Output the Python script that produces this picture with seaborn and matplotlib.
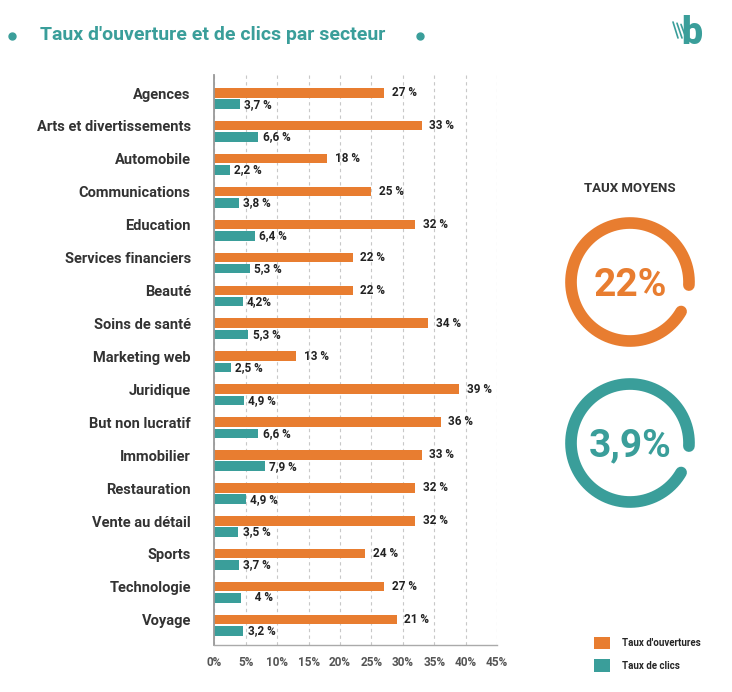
import matplotlib
matplotlib.use("Agg")
import matplotlib.pyplot as plt
import matplotlib.transforms as mtransforms
import numpy as np
import pandas as pd
import seaborn as sns

# Données
secteurs = ["Agences", "Arts et divertissements", "Automobile", "Communications",
            "Education", "Services financiers", "Beauté", "Soins de santé",
            "Marketing web", "Juridique", "But non lucratif", "Immobilier",
            "Restauration", "Vente au détail", "Sports", "Technologie", "Voyage"]
# longueurs des barres
ouvertures = [27, 33, 18, 25, 32, 22, 22, 34, 13, 39, 36, 33, 32, 32, 24, 27, 29]
clics = [4.0, 7.0, 2.5, 3.9, 6.4, 5.6, 4.5, 5.4, 2.6, 4.7, 7.0, 8.0, 5.0, 3.8, 3.9, 4.3, 4.6]
# étiquettes affichées
labels_ouvertures = ["27 %", "33 %", "18 %", "25 %", "32 %", "22 %", "22 %", "34 %", "13 %",
                     "39 %", "36 %", "33 %", "32 %", "32 %", "24 %", "27 %", "21 %"]
labels_clics = ["3,7 %", "6,6 %", "2,2 %", "3,8 %", "6,4 %", "5,3 %", "4,2%", "5,3 %", "2,5 %",
                "4,9 %", "6,6 %", "7,9 %", "4,9 %", "3,5 %", "3,7 %", "   4 %", "3,2 %"]
ticks_x = [0, 5, 10, 15, 20, 25, 30, 35, 40, 45]
moyenne_ouvertures = "22%"
moyenne_clics = "3,9%"

ORANGE = "#E87D30"
TEAL = "#3A9E9A"
TEXTE = "#333333"

sns.set_theme(style="white")
plt.rcParams["font.family"] = ["Roboto", "DejaVu Sans"]

df = pd.DataFrame({
    "secteur": secteurs * 2,
    "valeur": ouvertures + clics,
    "serie": ["Taux d'ouvertures"] * len(secteurs) + ["Taux de clics"] * len(secteurs),
})

fig = plt.figure(figsize=(7.32, 6.92), dpi=100)
ax = fig.add_axes([0.293, 0.068, 0.386, 0.824])

sns.barplot(data=df, y="secteur", x="valeur", hue="serie", orient="h",
            palette=[ORANGE, TEAL], saturation=1, width=0.69, gap=0.16,
            errorbar=None, linewidth=0, ax=ax)

ax.set_xlim(0, 45)
ax.set_ylim(16.6, -0.72)
ax.set_xticks(ticks_x)
ax.set_xticklabels([f"{t}%" for t in ticks_x])
ax.set_xlabel("")
ax.set_ylabel("")
ax.xaxis.grid(True, color="#c8c8c8", linestyle=(0, (3, 3)), linewidth=0.8)
ax.set_axisbelow(True)
for s in ["top", "right"]:
    ax.spines[s].set_visible(False)
ax.spines["left"].set_color("#999999")
ax.spines["left"].set_linewidth(1.3)
ax.spines["bottom"].set_color("#aaaaaa")
ax.spines["bottom"].set_linewidth(1.0)
ax.tick_params(axis="y", length=0, pad=17, labelsize=10.5, labelcolor=TEXTE)
ax.tick_params(axis="x", length=0, pad=8, labelsize=8.5, labelcolor="#555555")
for lab in ax.get_yticklabels():
    lab.set_fontweight("bold")
    lab.set_transform(lab.get_transform() + mtransforms.ScaledTranslation(0, 0.054, fig.dpi_scale_trans))
for lab in ax.get_xticklabels():
    lab.set_fontweight("bold")

ax.bar_label(ax.containers[0], labels=labels_ouvertures, padding=5.5,
             fontsize=8.5, fontweight="bold", color="#222222")
ax.bar_label(ax.containers[1], labels=labels_clics, padding=3,
             fontsize=8.5, fontweight="bold", color="#222222")

handles, labels = ax.get_legend_handles_labels()
ax.legend(handles=handles, labels=labels, loc="upper left",
          bbox_to_anchor=(594 / 732, 1 - 637 / 692), bbox_transform=fig.transFigure,
          frameon=False, handlelength=1.6, handleheight=1.6,
          labelspacing=1.0, handletextpad=1.3, borderpad=0, borderaxespad=0,
          prop={"weight": "bold", "size": 7})

# Couche de décor en coordonnées pixels
over = fig.add_axes([0, 0, 1, 1], zorder=3)
over.set_xlim(0, 732)
over.set_ylim(692, 0)
over.axis("off")
over.patch.set_alpha(0)

over.text(40, 35, "Taux d'ouverture et de clics par secteur", color=TEAL,
          fontsize=14, fontweight="bold", va="center", ha="left")
over.plot([12, 420], [36, 36], "o", color=TEAL, markersize=5, linestyle="none")

# logo
over.text(692, 34, "b", color=TEAL, fontsize=27, fontweight="heavy", ha="center", va="center")
for dx in [0, 4, 8]:
    over.plot([673 + dx, 678 + dx], [22 + dx * 0.3, 38], color=TEAL, lw=1.2, solid_capstyle="round")

over.text(630, 189, "TAUX MOYENS", color=TEXTE, fontsize=9.5, fontweight="bold",
          ha="center", va="center")


def anneau(cx, cy, couleur, texte):
    t = np.radians(np.linspace(-3, 330, 400))
    r = 59
    over.plot(cx + r * np.cos(t), cy - r * np.sin(t), color=couleur, lw=8.4,
              solid_capstyle="round")
    over.text(cx, cy + 3, texte, color=couleur, fontsize=28, fontweight="bold",
              ha="center", va="center")


anneau(630, 282, ORANGE, moyenne_ouvertures)
anneau(630, 443, TEAL, moyenne_clics)

fig.savefig("out.png", dpi=100, facecolor="white")
